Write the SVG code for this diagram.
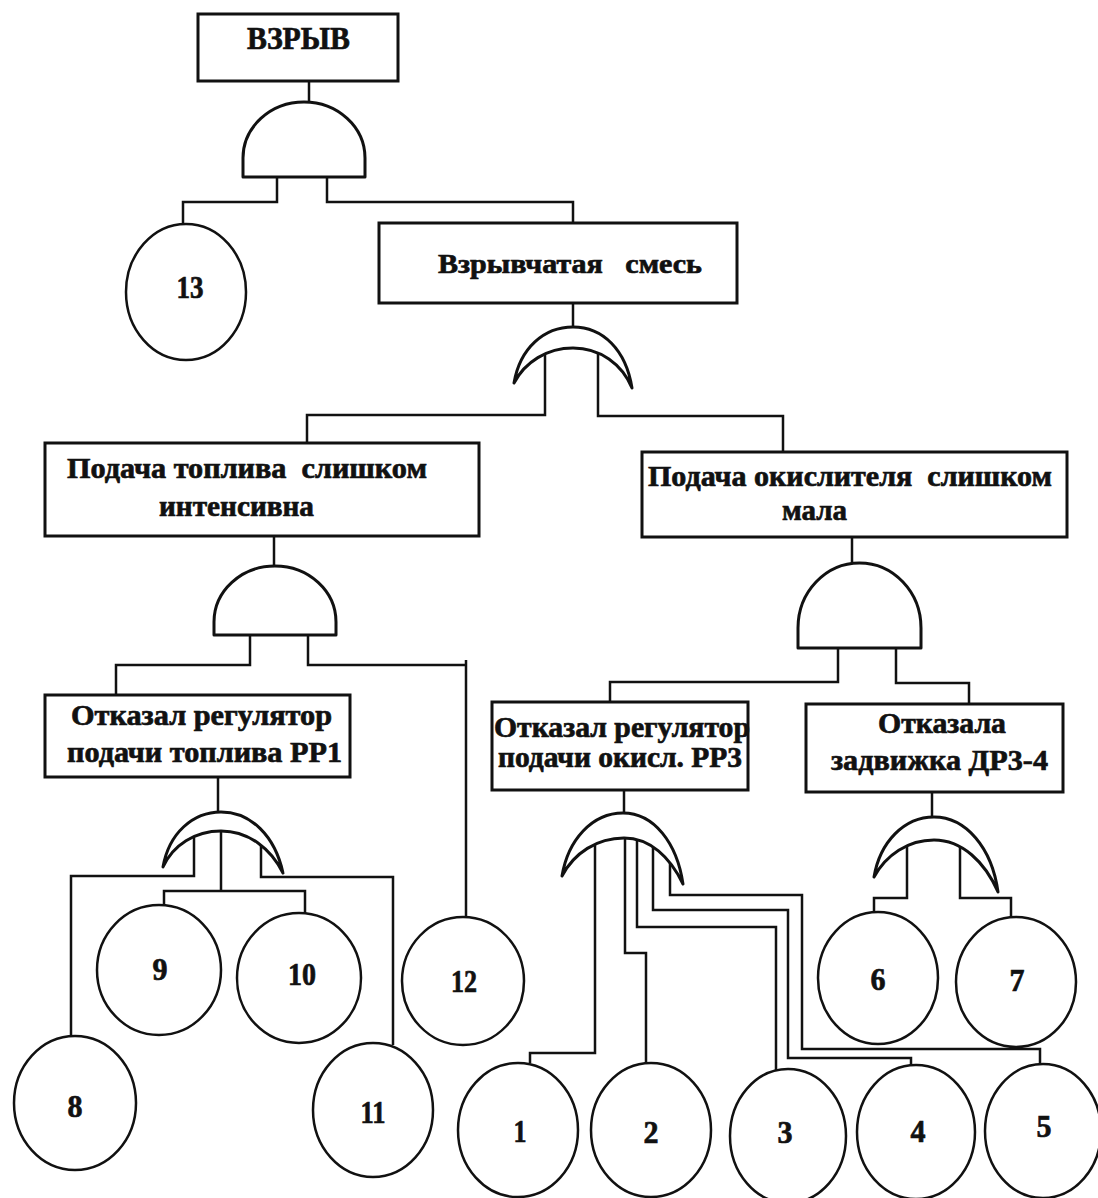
<svg xmlns="http://www.w3.org/2000/svg" width="1098" height="1198" viewBox="0 0 1098 1198">
<style>
.box{fill:#fff;stroke:#111;stroke-width:3}
.gate{fill:#fff;stroke:#111;stroke-width:3;stroke-linejoin:round}
.ev{fill:#fff;stroke:#111;stroke-width:2.5}
.wire{fill:none;stroke:#111;stroke-width:2.5}
text{font-family:"Liberation Serif","Times New Roman",serif;font-weight:bold;fill:#111;stroke:#111;stroke-width:0.7;white-space:pre}
.lbl{font-size:30px}
.num{font-size:32px;text-anchor:middle}
</style>
<rect width="1098" height="1198" fill="#fff"/>
<g id="connectors">
<path class="wire" d="M309,81 V102"/>
<path class="wire" d="M277,170 V202 H183 V224"/>
<path class="wire" d="M327,170 V202 H573 V223"/>
<path class="wire" d="M573,303 V327"/>
<path class="wire" d="M545,350 V415 H307 V443"/>
<path class="wire" d="M598,350 V416 H783 V452"/>
<path class="wire" d="M274,536 V567"/>
<path class="wire" d="M250,630 V665 H116 V695"/>
<path class="wire" d="M308,630 V665 H466 M466,660 V917"/>
<path class="wire" d="M218,778 V812"/>
<path class="wire" d="M194,835 V876 H71 V1037"/>
<path class="wire" d="M221,830 V891 H164 V905 M221,891 H305 V913"/>
<path class="wire" d="M261,835 V877 H393 V1045"/>
<path class="wire" d="M852,537 V563"/>
<path class="wire" d="M838,640 V682 H610 V702"/>
<path class="wire" d="M896,640 V683 H969 V704"/>
<path class="wire" d="M624,790 V813"/>
<path class="wire" d="M595,840 V1053 H530 V1063"/>
<path class="wire" d="M625,838 V953 H646 V1063"/>
<path class="wire" d="M637,838 V927 H776 V1070"/>
<path class="wire" d="M653,840 V910 H788 V1058 H911 V1065"/>
<path class="wire" d="M670,845 V895 H802 V1049 H1040 V1064"/>
<path class="wire" d="M932,792 V817"/>
<path class="wire" d="M907,840 V898 H874 V912"/>
<path class="wire" d="M960,840 V898 H1011 V917"/>
</g>
<g id="top-event">
<rect class="box" x="198" y="14" width="200" height="67"/>
<text x="247" y="49" font-size="32" textLength="103" lengthAdjust="spacingAndGlyphs">ВЗРЫВ</text>
</g>
<g id="gate-and-1"><path class="gate" d="M243,177 V158 A61,56 0 0 1 365,158 V177 Z"/></g>
<g id="event-13">
<ellipse class="ev" cx="186" cy="292" rx="60" ry="68"/>
<text class="num" x="190" y="298" textLength="27" lengthAdjust="spacingAndGlyphs">13</text>
</g>
<g id="mixture">
<rect class="box" x="379" y="223" width="358" height="80"/>
<text x="438" y="273" font-size="28" textLength="264" lengthAdjust="spacingAndGlyphs">Взрывчатая   смесь</text>
</g>
<g id="gate-or-2"><path class="gate" d="M514,383 C520,348 544,327 573,327 C603,327 626,350 632,388 C622,364 600,348 573,348 C547,348 525,362 514,383 Z"/></g>
<g id="fuel">
<rect class="box" x="45" y="443" width="434" height="93"/>
<text class="lbl" x="67" y="478" textLength="360" lengthAdjust="spacingAndGlyphs">Подача топлива  слишком</text>
<text class="lbl" x="159" y="516" textLength="155" lengthAdjust="spacingAndGlyphs">интенсивна</text>
</g>
<g id="gate-and-3"><path class="gate" d="M214,635 V622 A61,56 0 0 1 336,622 V635 Z"/></g>
<g id="rp1">
<rect class="box" x="45" y="695" width="305" height="82"/>
<text class="lbl" x="71" y="725" textLength="261" lengthAdjust="spacingAndGlyphs">Отказал регулятор</text>
<text class="lbl" x="67" y="762" textLength="275" lengthAdjust="spacingAndGlyphs">подачи топлива РР1</text>
</g>
<g id="gate-or-4"><path class="gate" d="M163,867 C169,833 193,812 221,812 C251,812 275,836 283,873 C271,849 249,831 221,831 C195,831 173,845 163,867 Z"/></g>
<g id="event-8"><ellipse class="ev" cx="75" cy="1103" rx="61" ry="67"/><text class="num" x="75" y="1117" textLength="15" lengthAdjust="spacingAndGlyphs">8</text></g>
<g id="event-9"><ellipse class="ev" cx="159" cy="970" rx="62" ry="65"/><text class="num" x="160" y="980" textLength="15" lengthAdjust="spacingAndGlyphs">9</text></g>
<g id="event-10"><ellipse class="ev" cx="299" cy="978" rx="62" ry="65"/><text class="num" x="302" y="985" textLength="28" lengthAdjust="spacingAndGlyphs">10</text></g>
<g id="event-11"><ellipse class="ev" cx="373" cy="1110" rx="60" ry="67"/><text class="num" x="373" y="1123" textLength="25" lengthAdjust="spacingAndGlyphs">11</text></g>
<g id="event-12"><ellipse class="ev" cx="463" cy="981" rx="61" ry="64"/><text class="num" x="464" y="992" textLength="26" lengthAdjust="spacingAndGlyphs">12</text></g>
<g id="oxidizer">
<rect class="box" x="642" y="452" width="425" height="85"/>
<text class="lbl" x="648" y="486" textLength="404" lengthAdjust="spacingAndGlyphs">Подача окислителя  слишком</text>
<text class="lbl" x="782" y="520" textLength="65" lengthAdjust="spacingAndGlyphs">мала</text>
</g>
<g id="gate-and-5"><path class="gate" d="M798,648 V628 A61.5,65 0 0 1 921,628 V648 Z"/></g>
<g id="rp3">
<rect class="box" x="492" y="702" width="256" height="88"/>
<text class="lbl" x="494" y="737" textLength="256" lengthAdjust="spacingAndGlyphs">Отказал регулятор</text>
<text class="lbl" x="498" y="767" textLength="244" lengthAdjust="spacingAndGlyphs">подачи окисл. РР3</text>
</g>
<g id="dr34">
<rect class="box" x="806" y="704" width="257" height="88"/>
<text class="lbl" x="878" y="733" textLength="128" lengthAdjust="spacingAndGlyphs">Отказала</text>
<text class="lbl" x="831" y="770" textLength="217" lengthAdjust="spacingAndGlyphs">задвижка ДР3-4</text>
</g>
<g id="gate-or-6"><path class="gate" d="M562,876 C568,840 592,813 623,813 C654,813 677,843 683,884 C670,857 650,838 624,838 C597,838 574,853 562,876 Z"/></g>
<g id="gate-or-7"><path class="gate" d="M874,877 C880,842 904,817 934,817 C966,817 992,848 998,892 C985,862 962,840 934,840 C908,840 886,855 874,877 Z"/></g>
<g id="event-1"><ellipse class="ev" cx="518" cy="1130" rx="60" ry="67"/><text class="num" x="520" y="1142" textLength="13" lengthAdjust="spacingAndGlyphs">1</text></g>
<g id="event-2"><ellipse class="ev" cx="651" cy="1130" rx="60" ry="67"/><text class="num" x="651" y="1143" textLength="15" lengthAdjust="spacingAndGlyphs">2</text></g>
<g id="event-3"><ellipse class="ev" cx="788" cy="1136" rx="58" ry="67"/><text class="num" x="785" y="1143" textLength="15" lengthAdjust="spacingAndGlyphs">3</text></g>
<g id="event-4"><ellipse class="ev" cx="916" cy="1132" rx="59" ry="67"/><text class="num" x="918" y="1142" textLength="15" lengthAdjust="spacingAndGlyphs">4</text></g>
<g id="event-5"><ellipse class="ev" cx="1043" cy="1131" rx="58" ry="67"/><text class="num" x="1044" y="1137" textLength="15" lengthAdjust="spacingAndGlyphs">5</text></g>
<g id="event-6"><ellipse class="ev" cx="878" cy="978" rx="60" ry="66"/><text class="num" x="878" y="990" textLength="15" lengthAdjust="spacingAndGlyphs">6</text></g>
<g id="event-7"><ellipse class="ev" cx="1016" cy="982" rx="60" ry="65"/><text class="num" x="1017" y="991" textLength="15" lengthAdjust="spacingAndGlyphs">7</text></g>
</svg>
